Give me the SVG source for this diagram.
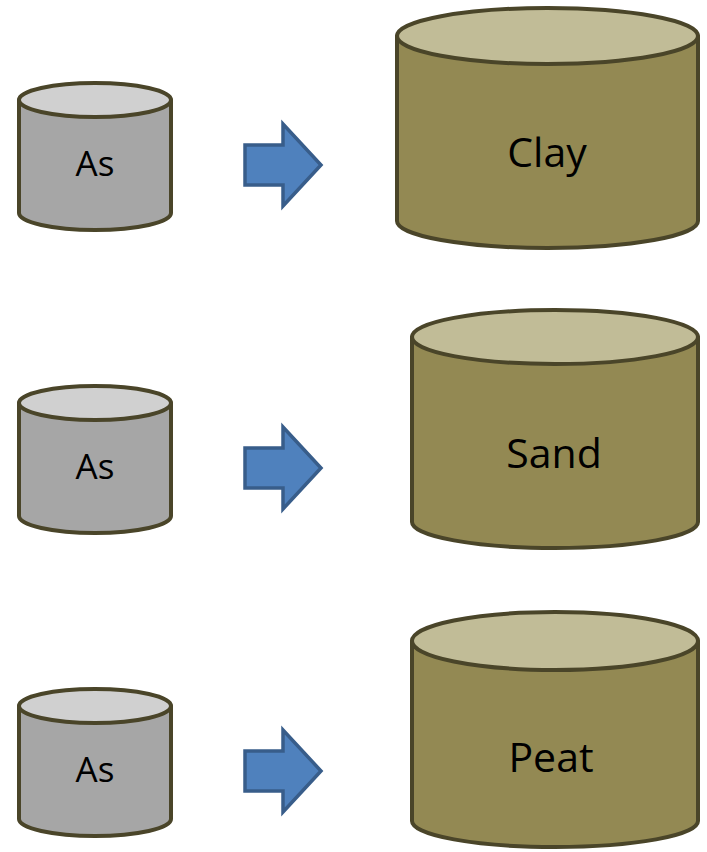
<svg xmlns="http://www.w3.org/2000/svg" width="707" height="852" viewBox="0 0 707 852">
<style>
.s{stroke:#4a4529;stroke-width:4;stroke-linejoin:round}
.gs{fill:#a6a6a6}
.gt{fill:#d0d0d0}
.os{fill:#938953}
.ot{fill:#c1bc97}
.arr{fill:#4f81bd;stroke:#385d8a;stroke-width:3.5;stroke-linejoin:miter}
.t{font-family:"Open Sans","Noto Sans",sans-serif;fill:#000;text-anchor:middle}
</style>
<rect width="707" height="852" fill="#fff"/>
<g id="as1">
<path class="s gs" d="M19,100 L19,213 A76,17 0 0 0 171,213 L171,100 Z"/>
<ellipse class="s gt" cx="95" cy="100" rx="76" ry="17"/>
<text class="t" x="95" y="176" font-size="35">As</text>
</g>
<g id="as2">
<path class="s gs" d="M19,403 L19,516 A76,17 0 0 0 171,516 L171,403 Z"/>
<ellipse class="s gt" cx="95" cy="403" rx="76" ry="17"/>
<text class="t" x="95" y="479" font-size="35">As</text>
</g>
<g id="as3">
<path class="s gs" d="M19,706 L19,819 A76,17 0 0 0 171,819 L171,706 Z"/>
<ellipse class="s gt" cx="95" cy="706" rx="76" ry="17"/>
<text class="t" x="95" y="782" font-size="35">As</text>
</g>
<g id="clay">
<path class="s os" d="M397,36 L397,221 A150.5,27 0 0 0 698,221 L698,36 Z"/>
<ellipse class="s ot" cx="547.5" cy="36" rx="150.5" ry="28"/>
<text class="t" x="547" y="167" font-size="41">Clay</text>
</g>
<g id="sand">
<path class="s os" d="M412,337 L412,522 A143,26 0 0 0 698,522 L698,337 Z"/>
<ellipse class="s ot" cx="555" cy="337" rx="143" ry="27"/>
<text class="t" x="554" y="468" font-size="41">Sand</text>
</g>
<g id="peat">
<path class="s os" d="M412,641 L412,821 A143,26 0 0 0 698,821 L698,641 Z"/>
<ellipse class="s ot" cx="555" cy="641" rx="143" ry="29"/>
<text class="t" x="551" y="772" font-size="41">Peat</text>
</g>
<g id="connectors">
<path class="arr" d="M245,145 L283,145 L283,124 L321,165 L283,206 L283,185 L245,185 Z"/>
<path class="arr" d="M245,448 L283,448 L283,427 L321,468 L283,509 L283,488 L245,488 Z"/>
<path class="arr" d="M245,751 L283,751 L283,730 L321,771 L283,812 L283,791 L245,791 Z"/>
</g>
</svg>
